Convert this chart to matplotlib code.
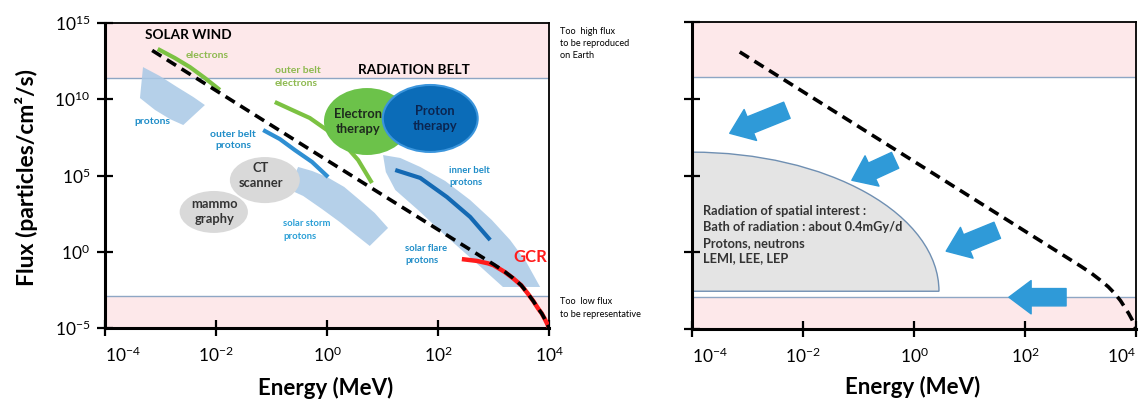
import numpy as np
import matplotlib
matplotlib.use('Agg')
import matplotlib.pyplot as plt
from matplotlib.patches import Ellipse, Polygon, PathPatch
from matplotlib.path import Path

plt.rcParams['font.family'] = ['Lato', 'DejaVu Sans']
plt.rcParams['mathtext.fontset'] = 'custom'
plt.rcParams['mathtext.rm'] = 'Lato'
plt.rcParams['mathtext.it'] = 'Lato:italic'
plt.rcParams['mathtext.bf'] = 'Lato:bold'

# everything is in log10 units (energy in MeV, flux in particles/cm2/s)
ticks_e = [-4, -2, 0, 2, 4]
ticks_f = [-5, 0, 5, 10, 15]
high_band = [11.4, 15]
low_band = [-5, -2.9]

# limit of what earth facilities can reproduce (dashed)
limit1_e = [-3.15, 0.0, 3.0, 3.2, 3.35, 3.5, 3.62, 3.72, 3.8, 3.87, 3.93, 3.97, 4.0]
limit1_f = [13.2, 6.0, -0.82, -1.3, -1.72, -2.2, -2.75, -3.25, -3.7, -4.05, -4.45, -4.75, -5.0]
limit2_e = [-3.14, 0.0, 3.0, 3.2, 3.35, 3.5, 3.62, 3.72, 3.8, 3.87, 3.93, 3.97, 4.0]
limit2_f = [13.05, 5.92, -0.9, -1.38, -1.8, -2.25, -2.7, -3.15, -3.6, -4.0, -4.4, -4.72, -5.0]

gcr_e = [2.47, 2.7, 2.9, 3.0, 3.2, 3.35, 3.5, 3.62, 3.72, 3.8, 3.87, 3.93, 3.97, 4.0]
gcr_f = [-0.5, -0.6, -0.76, -0.88, -1.32, -1.73, -2.2, -2.75, -3.25, -3.7, -4.05, -4.45, -4.75, -5.0]

sw_elec_e = [-3.05, -2.74, -2.47, -2.20, -1.93]
sw_elec_f = [13.30, 12.70, 12.11, 11.39, 10.61]
ob_elec_e = [-0.94, -0.63, -0.31, 0.0, 0.29, 0.56, 0.81]
ob_elec_f = [9.82, 9.30, 8.77, 7.98, 7.13, 6.02, 4.51]
ob_prot_e = [-1.15, -0.85, -0.58, -0.27, 0.02]
ob_prot_f = [7.98, 7.39, 6.67, 5.89, 4.90]
ib_prot_e = [1.23, 1.68, 2.16, 2.58, 2.94]
ib_prot_f = [5.36, 4.84, 3.59, 2.28, 0.77]

sw_prot_band = [(-3.315, 12.11), (-3.01, 11.52), (-2.70, 10.80), (-2.41, 10.15), (-2.20, 9.62),
                (-2.59, 8.31), (-2.83, 8.70), (-3.10, 9.30), (-3.37, 10.08)]
storm_band = [(-0.52, 5.56), (-0.27, 5.30), (0.0, 4.90), (0.31, 4.25), (0.59, 3.39),
              (0.86, 2.54), (1.10, 1.56), (0.77, 0.38), (0.52, 1.10), (0.23, 1.95),
              (-0.09, 2.80), (-0.43, 3.66), (-0.70, 4.11)]
inner_band = [(1.01, 6.34), (1.32, 6.15), (1.68, 5.56), (2.13, 4.64), (2.58, 3.39),
              (2.97, 2.08), (3.30, 0.77), (3.59, -0.67), (3.84, -2.31), (3.17, -2.31),
              (2.67, -0.67), (2.16, 0.97), (1.64, 2.74), (1.23, 4.05), (1.06, 5.23)]

# (centre e, centre f, width, height)
electron_th = (0.72, 8.54, 1.55, 4.39)
proton_th = (1.86, 8.74, 1.71, 4.39)
ct_scan = (-1.12, 4.70, 1.26, 3.02)
mammo = (-2.04, 2.61, 1.23, 2.75)

# spatial interest region (quarter ellipse) and arrows on the right panel
space_region = (-4.0, -2.54, 4.45, 9.06)
arrow_e0 = [-2.29, -0.34, 1.50, 2.74]
arrow_f0 = [9.25, 5.99, 1.43, -2.93]
arrow_e1 = [-3.32, -1.12, 0.58, 1.71]
arrow_f1 = [7.75, 4.69, 0.07, -2.93]

pink = '#fde8ea'
band_line = '#8ea6c4'
light_blue = '#a8c8e6'
txt_blue = '#1f8dc8'

fig = plt.figure(figsize=(11.48, 4.05), dpi=100)
ax1 = fig.add_axes([105/1148, 1-328/405, 444/1148, 305/405])
ax2 = fig.add_axes([692/1148, 1-329/405, 444/1148, 307/405])

for ax in (ax1, ax2):
    ax.set_xlim(-4, 4)
    ax.set_ylim(-5, 15)
    ax.axhspan(high_band[0], high_band[1], color=pink, lw=0, zorder=0)
    ax.axhspan(low_band[0], low_band[1], color=pink, lw=0, zorder=0)
    ax.axhline(high_band[0], color=band_line, lw=1, zorder=0.5)
    ax.axhline(low_band[1], color=band_line, lw=1, zorder=0.5)
    ax.set_xticks(ticks_e)
    ax.set_xticklabels([f'$10^{{{v}}}$' for v in ticks_e])
    ax.set_yticks(ticks_f)
    ax.set_yticklabels([f'$10^{{{v}}}$' for v in ticks_f])
    ax.tick_params(direction='inout', length=11, width=1.6, labelsize=12.5, pad=5)
    ax.tick_params(axis='x', pad=7)
    ax.get_xticklabels()[0].set_ha('left')
    for s in ['left', 'bottom']:
        ax.spines[s].set_linewidth(2.2)
    for s in ['top', 'right']:
        ax.spines[s].set_linewidth(1.3)
ax2.set_yticklabels([])
ax2.get_xticklabels()[-1].set_ha('right')

# ---- left panel ----
for poly in (sw_prot_band, storm_band, inner_band):
    ax1.add_patch(Polygon(poly, closed=True, fc=light_blue, ec='none', alpha=0.85, zorder=1))

for c in (ct_scan, mammo):
    ax1.add_patch(Ellipse(c[:2], c[2], c[3], fc='#d9d9d9', ec='none', zorder=2))

ax1.plot(sw_elec_e, sw_elec_f, color='#7cc242', lw=3, solid_capstyle='butt', zorder=3)
ax1.plot(ob_elec_e, ob_elec_f, color='#7cc242', lw=3, solid_capstyle='butt', zorder=3)
ax1.plot(ob_prot_e, ob_prot_f, color='#2f8fd2', lw=3, solid_capstyle='butt', zorder=3)
ax1.plot(ib_prot_e, ib_prot_f, color='#1469b3', lw=3, solid_capstyle='butt', zorder=3)

ax1.add_patch(Ellipse(electron_th[:2], electron_th[2], electron_th[3], fc='#6cc24a', ec='none', zorder=4))
ax1.add_patch(Ellipse(proton_th[:2], proton_th[2], proton_th[3], fc='#0b6cb8', ec='#3b95dc', lw=1.5, zorder=5))

ax1.plot(gcr_e, gcr_f, color='#ff1c1c', lw=3.2, zorder=6)
ax1.plot(limit1_e, limit1_f, color='black', lw=2.6, dashes=(3, 1.8), zorder=7)

ax1.text(-2.50, 14.21, 'SOLAR WIND', fontsize=9.8, fontweight='bold', ha='center', va='center')
ax1.text(1.57, 11.92, 'RADIATION BELT', fontsize=9.8, fontweight='bold', ha='center', va='center')
ax1.text(-2.16, 12.90, 'electrons', fontsize=7.5, fontweight='bold', color='#8db94e', ha='center', va='center')
ax1.text(-0.94, 11.46, 'outer belt\nelectrons', fontsize=7.5, fontweight='bold', color='#8db94e',
         ha='left', va='center', linespacing=1.6)
ax1.text(-3.14, 8.51, 'protons', fontsize=7.5, fontweight='bold', color=txt_blue, ha='center', va='center')
ax1.text(-1.69, 7.33, 'outer belt\nprotons', fontsize=7.5, fontweight='bold', color=txt_blue,
         ha='center', va='center', linespacing=1.4)
ax1.text(-0.79, 1.43, 'solar storm\nprotons', fontsize=6.8, fontweight='bold', color='#2a9fd6',
         ha='left', va='center', linespacing=1.5)
ax1.text(2.20, 4.93, 'inner belt\nprotons', fontsize=6.8, fontweight='bold', color=txt_blue,
         ha='left', va='center', linespacing=1.5)
ax1.text(1.41, -0.18, 'solar flare\nprotons', fontsize=6.8, fontweight='bold', color=txt_blue,
         ha='left', va='center', linespacing=1.5)
ax1.text(0.56, 8.54, 'Electron\ntherapy', fontsize=9.3, fontweight='bold', color='#1d2a1d',
         ha='center', va='center', linespacing=1.3, zorder=8)
ax1.text(1.95, 8.77, 'Proton\ntherapy', fontsize=9.3, fontweight='bold', color='#0b2550',
         ha='center', va='center', linespacing=1.3, zorder=8)
ax1.text(-1.19, 4.97, 'CT\nscanner', fontsize=9.3, fontweight='bold', color='#333333',
         ha='center', va='center', linespacing=1.3, zorder=8)
ax1.text(-2.02, 2.67, 'mammo\ngraphy', fontsize=9.3, fontweight='bold', color='#333333',
         ha='center', va='center', linespacing=1.3, zorder=8)
ax1.text(3.66, -0.34, 'GCR', fontsize=12, fontweight='bold', color='#ff1c1c', ha='center', va='center')

# ---- right panel ----
cx, cy, rx, ry = space_region
arc = Path.arc(0, 90)
verts = np.vstack([arc.vertices * [rx, ry] + [cx, cy], [cx, cy], [cx, cy]])
codes = list(arc.codes) + [Path.LINETO, Path.CLOSEPOLY]
ax2.add_patch(PathPatch(Path(verts, codes), fc='#e4e4e4', ec='#6f8fb2', lw=1, zorder=1))
ax2.text(-3.8, 1.14, 'Radiation of spatial interest :\nBath of radiation : about 0.4mGy/d\n'
         'Protons, neutrons\nLEMI, LEE, LEP', fontsize=9.2, fontweight='bold', color='#333333',
         ha='left', va='center', linespacing=1.38, zorder=3)

for e0, f0, e1, f1 in zip(arrow_e0, arrow_f0, arrow_e1, arrow_f1):
    ax2.annotate('', xy=(e1, f1), xytext=(e0, f0), zorder=4,
                 arrowprops=dict(arrowstyle='simple,head_length=1.6,head_width=2.4,tail_width=1.25',
                                 mutation_scale=10, color='#2f9ad8', shrinkA=0, shrinkB=0))

ax2.plot(limit2_e, limit2_f, color='black', lw=2.6, dashes=(3, 1.8), zorder=7)

# ---- labels ----
fig.text(27/1148, 1-178/405, 'Flux (particles/cm²/s)', rotation=90, fontsize=16.5,
         fontweight='bold', ha='center', va='center')
fig.text(326/1148, 1-388/405, 'Energy (MeV)', fontsize=16, fontweight='bold', ha='center', va='center')
fig.text(913/1148, 1-387/405, 'Energy (MeV)', fontsize=16, fontweight='bold', ha='center', va='center')
fig.text(560/1148, 1-27/405, 'Too  high flux\nto be reproduced\non Earth', fontsize=6.6,
         ha='left', va='top', linespacing=1.45)
fig.text(560/1148, 1-297/405, 'Too  low flux\nto be representative', fontsize=6.6,
         ha='left', va='top', linespacing=1.6)

fig.savefig('out.png', dpi=100)
